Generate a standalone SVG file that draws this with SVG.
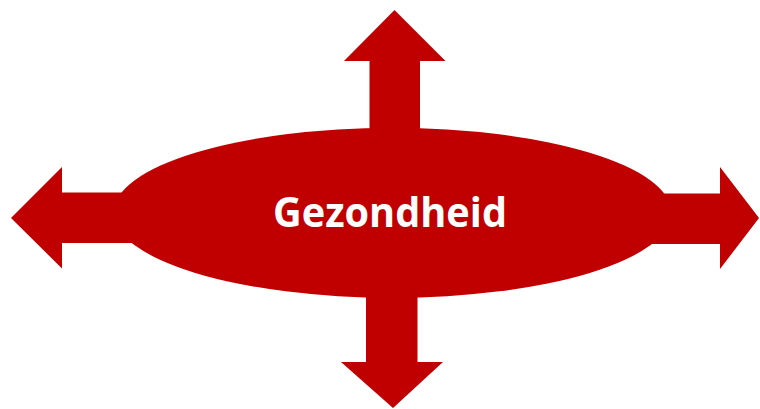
<svg xmlns="http://www.w3.org/2000/svg" width="760" height="409" viewBox="0 0 760 409">
<style>
.shape{fill:#C00000;stroke:none}
.label{font-family:"Open Sans","Liberation Sans",sans-serif;font-weight:bold;font-size:42px;fill:#FFFFFF}
</style>
<rect width="760" height="409" fill="#FFFFFF"/>
<g id="connectors">
<polygon id="arrow-up" class="shape" points="369.5,180 369.5,61 344,61 394.5,10 445.5,61 420,61 420,180"/>
<polygon id="arrow-down" class="shape" points="366,250 366,362 341,362 393,408 443,362 417.5,362 417.5,250"/>
<polygon id="arrow-left" class="shape" points="200,192.5 62,192.5 62,167 11,218 62,268.5 62,243 200,243"/>
<polygon id="arrow-right" class="shape" points="580,193.5 720,193.5 720,167 759,218 720,269 720,244 580,244"/>
</g>
<g id="node-gezondheid">
<ellipse class="shape" cx="392.5" cy="212.8" rx="279" ry="85"/>
<text class="label" x="390" y="227" text-anchor="middle" textLength="234" lengthAdjust="spacingAndGlyphs">Gezondheid</text>
</g>
</svg>
